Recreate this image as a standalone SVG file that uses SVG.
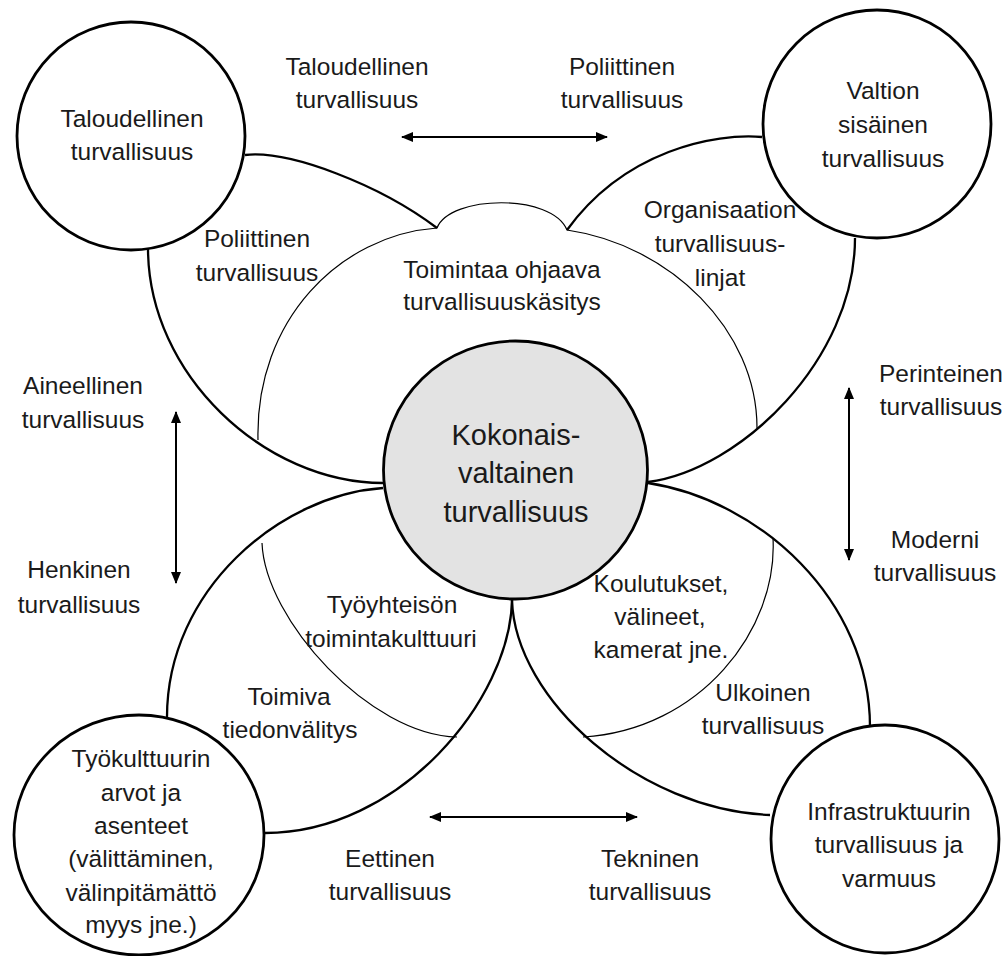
<svg xmlns="http://www.w3.org/2000/svg" width="1007" height="956" viewBox="0 0 1007 956">
<style>
.bg{fill:#ffffff}
.petal{fill:none;stroke:#000;stroke-width:2.3}
.thin{fill:none;stroke:#000;stroke-width:1.2}
.circ{fill:#ffffff;stroke:#000;stroke-width:2.8}
.core{fill:#e3e3e3;stroke:#000;stroke-width:2.8}
.arrow{fill:none;stroke:#000;stroke-width:2;marker-start:url(#ah);marker-end:url(#ah)}
text{font-family:"Liberation Sans",Arial,sans-serif;font-size:24.5px;fill:#1a1a1a;text-anchor:middle}
.big{font-size:29px}
</style>
<defs>
<marker id="ah" viewBox="0 0 12 10" refX="11" refY="5" markerWidth="12" markerHeight="10" markerUnits="userSpaceOnUse" orient="auto-start-reverse">
<path d="M0,0 L12,5 L0,10 Z" fill="#000"/>
</marker>
</defs>
<rect class="bg" x="0" y="0" width="1007" height="956"/>

<g id="petal-top-left">
<path class="petal" d="M245,155 C290,150 380,185 437,228"/>
<path class="petal" d="M148,248 C148,375 265,483 383,483"/>
</g>
<g id="petal-top-right">
<path class="petal" d="M762,137 C715,133 625,150 567,230"/>
<path class="petal" d="M855,238 C855,360 740,470 648,482"/>
</g>
<g id="petal-bottom-left">
<path class="petal" d="M383,488 C280,495 167,590 167,717"/>
<path class="petal" d="M512,600 C510,700 400,833 265,833"/>
<path class="thin" d="M262,543 C265,620 370,735 457,737"/>
</g>
<g id="petal-bottom-right">
<path class="petal" d="M512,600 C515,700 640,810 770,815"/>
<path class="petal" d="M648,483 C760,500 870,600 870,727"/>
<path class="thin" d="M773,538 C778,630 700,730 583,737"/>
</g>
<g id="cloud">
<path class="thin" d="M258,440 C255,320 340,235 437,228 C450,195 552,193 567,230 C670,245 757,330 757,428"/>
</g>

<g id="node-core">
<ellipse class="core" cx="515.5" cy="470" rx="132" ry="129"/>
<text class="big" x="516" y="445">Kokonais-</text>
<text class="big" x="516" y="483">valtainen</text>
<text class="big" x="516" y="522">turvallisuus</text>
</g>
<g id="node-taloudellinen">
<circle class="circ" cx="131" cy="136" r="114"/>
<text x="132" y="127">Taloudellinen</text>
<text x="132" y="160">turvallisuus</text>
</g>
<g id="node-valtion">
<circle class="circ" cx="877" cy="124" r="114"/>
<text x="883" y="99">Valtion</text>
<text x="883" y="133">sisäinen</text>
<text x="883" y="167">turvallisuus</text>
</g>
<g id="node-tyokulttuuri">
<ellipse class="circ" cx="139" cy="835" rx="125" ry="120"/>
<text x="141" y="767">Työkulttuurin</text>
<text x="141" y="801">arvot ja</text>
<text x="141" y="834">asenteet</text>
<text x="141" y="867">(välittäminen,</text>
<text x="141" y="901">välinpitämättö</text>
<text x="141" y="933">myys jne.)</text>
</g>
<g id="node-infra">
<circle class="circ" cx="885" cy="839" r="114"/>
<text x="889" y="820">Infrastruktuurin</text>
<text x="889" y="853">turvallisuus ja</text>
<text x="889" y="887">varmuus</text>
</g>

<g id="labels">
<text x="502" y="278">Toimintaa ohjaava</text>
<text x="502" y="310">turvallisuuskäsitys</text>
<text x="257" y="247">Poliittinen</text>
<text x="257" y="281">turvallisuus</text>
<text x="720" y="218">Organisaation</text>
<text x="720" y="252">turvallisuus-</text>
<text x="720" y="286">linjat</text>
<text x="392" y="613">Työyhteisön</text>
<text x="391" y="647">toimintakulttuuri</text>
<text x="289" y="705">Toimiva</text>
<text x="290" y="738">tiedonvälitys</text>
<text x="661" y="592">Koulutukset,</text>
<text x="660" y="625">välineet,</text>
<text x="661" y="658">kamerat jne.</text>
<text x="763" y="701">Ulkoinen</text>
<text x="763" y="734">turvallisuus</text>
<text x="357" y="75">Taloudellinen</text>
<text x="357" y="108">turvallisuus</text>
<text x="622" y="75">Poliittinen</text>
<text x="622" y="108">turvallisuus</text>
<text x="83" y="394">Aineellinen</text>
<text x="83" y="428">turvallisuus</text>
<text x="79" y="578">Henkinen</text>
<text x="79" y="613">turvallisuus</text>
<text x="941" y="382">Perinteinen</text>
<text x="941" y="415">turvallisuus</text>
<text x="935" y="548">Moderni</text>
<text x="935" y="581">turvallisuus</text>
<text x="390" y="867">Eettinen</text>
<text x="390" y="900">turvallisuus</text>
<text x="650" y="867">Tekninen</text>
<text x="650" y="900">turvallisuus</text>
</g>

<g id="connectors">
<line class="arrow" x1="402" y1="137" x2="607" y2="137"/>
<line class="arrow" x1="176" y1="412" x2="176" y2="583"/>
<line class="arrow" x1="849" y1="388" x2="849" y2="560"/>
<line class="arrow" x1="430" y1="817" x2="637" y2="817"/>
</g>
</svg>
